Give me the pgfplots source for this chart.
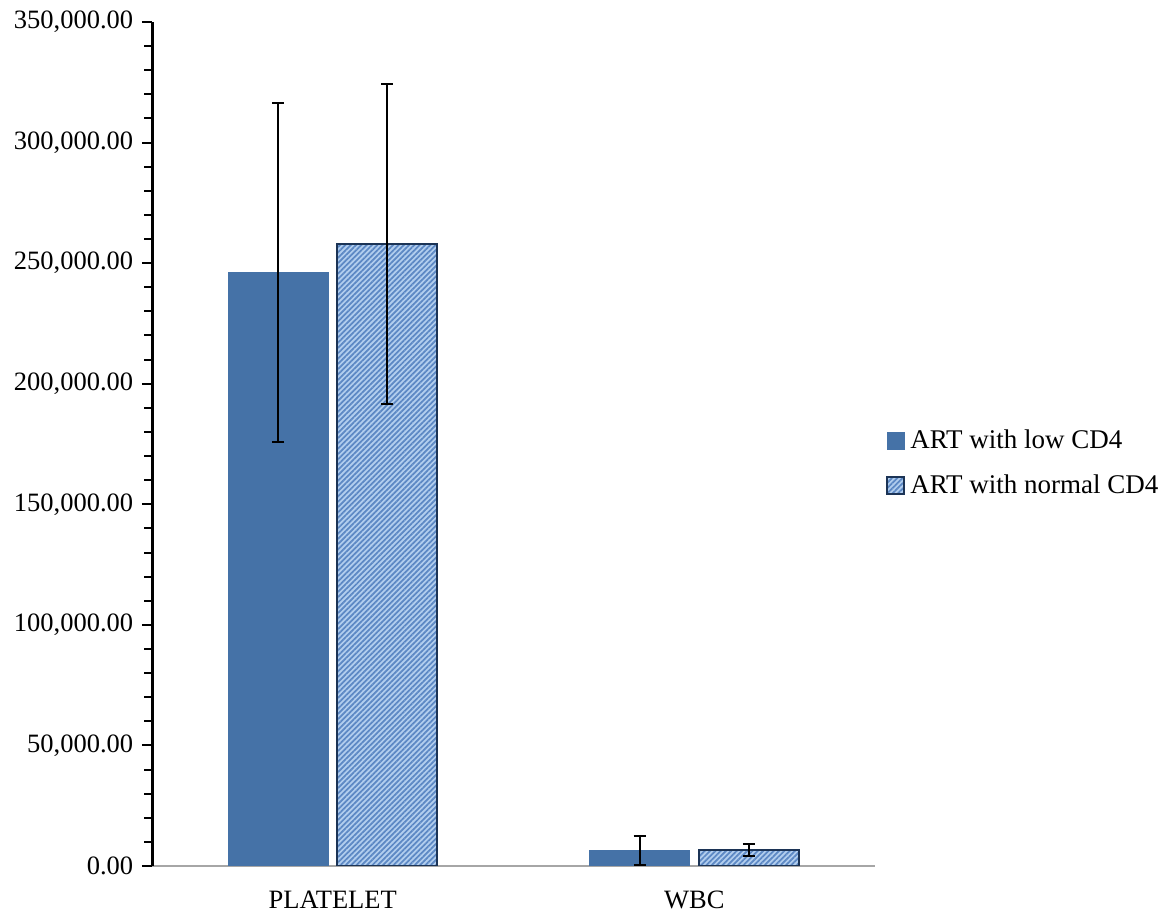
\documentclass[border=0pt]{standalone}
\usepackage{pgfplots}
\pgfplotsset{compat=1.18}
\usetikzlibrary{patterns.meta}
\usepackage{fontspec}
\setmainfont{Liberation Serif}

\definecolor{solidblue}{RGB}{69,114,167}
\definecolor{hatchlight}{RGB}{178,206,238}
\definecolor{hatchdark}{RGB}{92,136,196}
\definecolor{edgenavy}{RGB}{28,52,86}

\begin{document}
\begin{tikzpicture}
\useasboundingbox (-60.8pt,-19.2pt) rectangle (407.6pt,346.4pt);
\begin{axis}[
  scale only axis,
  width=289.2pt, height=337.6pt,
  xmin=-0.5, xmax=1.5,
  ymin=0, ymax=350000,
  axis x line*=bottom, axis y line*=left,
  x axis line style={gray!70, line width=0.8pt, -},
  y axis line style={black, line width=1.2pt, -},
  tick align=outside,
  major tick length=4pt, minor tick length=3pt,
  ytick={0,50000,...,350000},
  minor y tick num=4,
  ytick pos=left,
  y tick style={black, line width=0.8pt},
  scaled y ticks=false,
  yticklabel style={/pgf/number format/.cd, fixed, fixed zerofill, precision=2, 1000 sep={,}, assume math mode=true},
  xtick={0,1},
  xticklabels={PLATELET, WBC},
  xticklabel style={yshift=-2.4pt},
  x tick style={draw=none},
  extra x ticks={-0.5,0.5,1.5},
  extra x tick labels={},
  extra x tick style={tick style={gray!70, line width=0.8pt}},
  tick label style={font=\fontsize{10.6}{12}\selectfont, text=black},
  ybar,
  bar width=0.277,
  error bars/y dir=both,
  error bars/y explicit,
  error bars/error bar style={black, line width=0.8pt},
  error bars/error mark options={rotate=90, mark size=2.4pt, line width=0.8pt, black},
  legend style={draw=none, fill=none, at={(1.015,0.477)}, anchor=west,
    font=\fontsize{10.8}{12}\selectfont, row sep=4.8pt, inner sep=0pt,
    legend cell align=left},
  legend image code/.code={\draw[#1] (0pt,-3.4pt) rectangle (6.8pt,3.4pt);},
]
\addplot[bar shift=-0.151, fill=solidblue, draw=solidblue, line width=0.4pt]
  coordinates {(0,246000) +- (0,70300) (1,6400) +- (0,5900)};
\addlegendentry{ART with low CD4}
\addplot[bar shift=0.151, fill=hatchlight, draw=edgenavy, line width=0.8pt,
  postaction={pattern={Lines[angle=45, distance=1.5pt, line width=0.7pt]}, pattern color=hatchdark}]
  coordinates {(0,257800) +- (0,66300) (1,6600) +- (0,2500)};
\addlegendentry{ART with normal CD4}
\end{axis}
\end{tikzpicture}
\end{document}
